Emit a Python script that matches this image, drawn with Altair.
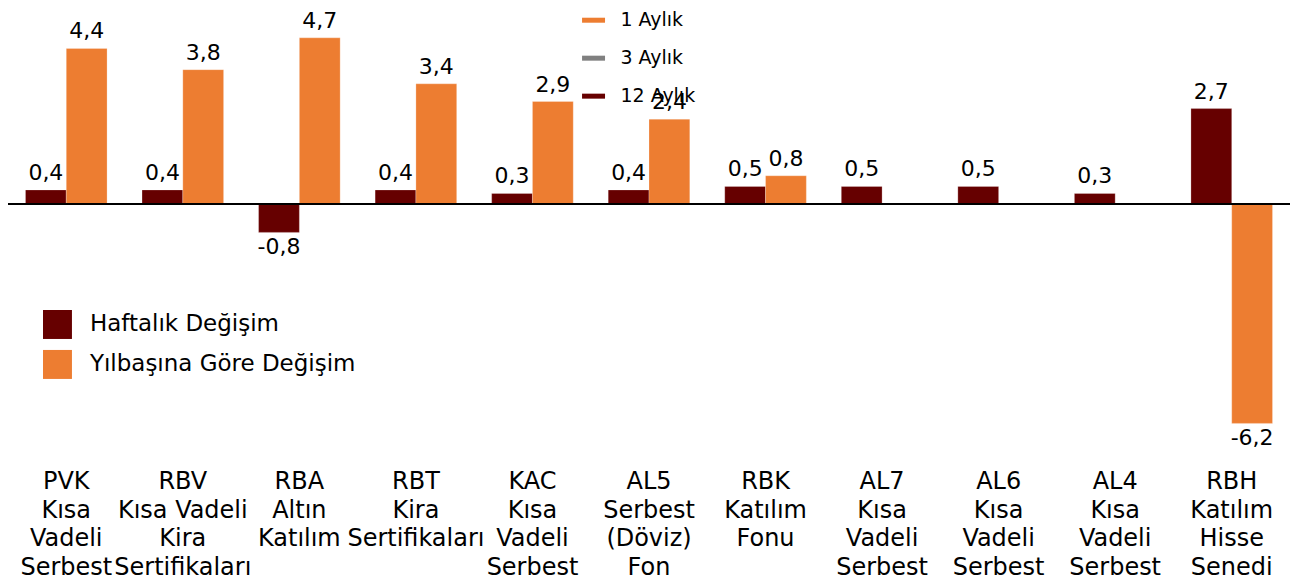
import altair as alt
import pandas as pd

categories = [
    "PVK\nKısa\nVadeli\nSerbest",
    "RBV\nKısa Vadeli\nKira\nSertifikaları",
    "RBA\nAltın\nKatılım",
    "RBT\nKira\nSertifikaları",
    "KAC\nKısa\nVadeli\nSerbest",
    "AL5\nSerbest\n(Döviz)\nFon",
    "RBK\nKatılım\nFonu",
    "AL7\nKısa\nVadeli\nSerbest",
    "AL6\nKısa\nVadeli\nSerbest",
    "AL4\nKısa\nVadeli\nSerbest",
    "RBH\nKatılım\nHisse\nSenedi",
]
haftalik = [0.4, 0.4, -0.8, 0.4, 0.3, 0.4, 0.5, 0.5, 0.5, 0.3, 2.7]
yilbasi = [4.4, 3.8, 4.7, 3.4, 2.9, 2.4, 0.8, None, None, None, -6.2]
series_names = ["Haftalık Değişim", "Yılbaşına Göre Değişim"]
series_colors = ["#660000", "#ED7D31"]
top_legend_names = ["1 Aylık", "3 Aylık", "12 Aylık"]
top_legend_colors = ["#ED7D31", "#808080", "#660000"]

rows = []
for c, h, y in zip(categories, haftalik, yilbasi):
    rows.append({"cat": c, "seri": series_names[0], "val": h})
    if y is not None:
        rows.append({"cat": c, "seri": series_names[1], "val": y})
df = pd.DataFrame(rows)
df["lab"] = df["val"].map(lambda v: f"{v:.1f}".replace(".", ","))

FONT = "DejaVu Sans"

xenc = alt.X(
    "cat:N",
    sort=categories,
    scale=alt.Scale(paddingInner=0.3, paddingOuter=0.15),
    axis=alt.Axis(
        title=None, domain=False, ticks=False, grid=False,
        labelAngle=0, labelFontSize=24, labelFont=FONT, labelColor="#000000",
        labelLineHeight=28.5, labelPadding=32, labelBaseline="top",
        labelExpr="split(datum.label, '\\n')", labelLimit=300,
        labelOverlap=False,
    ),
)
yscale = alt.Scale(domain=[-6.61, 5.537], nice=False, zero=False)
yenc = alt.Y("val:Q", scale=yscale, axis=None)
xoff = alt.XOffset("seri:N", sort=series_names, scale=alt.Scale(paddingInner=0, paddingOuter=0))

base = alt.Chart(df)

bars = base.mark_bar(stroke="#ffffff", strokeWidth=0.5, strokeOpacity=0.5).encode(
    x=xenc,
    xOffset=xoff,
    y=yenc,
    y2=alt.datum(0),
    color=alt.Color(
        "seri:N",
        scale=alt.Scale(domain=series_names, range=series_colors),
        legend=alt.Legend(
            title=None, orient="none", legendX=35, legendY=302,
            symbolType="square", symbolSize=841, symbolStrokeWidth=0,
            labelFontSize=23, labelFont=FONT, labelColor="#000000",
            rowPadding=11, labelOffset=18, labelLimit=400,
        ),
    ),
)

pos_text = base.transform_filter("datum.val >= 0").mark_text(
    baseline="bottom", dy=-5, fontSize=22, font=FONT, color="#000000"
).encode(x=xenc, xOffset=xoff, y=yenc, text="lab:N")

neg_text = base.transform_filter("datum.val < 0").mark_text(
    baseline="top", dy=5, fontSize=22, font=FONT, color="#000000"
).encode(x=xenc, xOffset=xoff, y=yenc, text="lab:N")

zero_rule = alt.Chart(pd.DataFrame({"z": [0]})).mark_rule(
    color="#000000", strokeWidth=2
).encode(y=alt.Y("z:Q", scale=yscale, axis=None))

top_df = pd.DataFrame({"name": top_legend_names})
top_legend = alt.Chart(top_df).mark_line(strokeWidth=5).encode(
    x=alt.value(0),
    y=alt.value(0),
    stroke=alt.Stroke(
        "name:N",
        scale=alt.Scale(domain=top_legend_names, range=top_legend_colors),
        legend=alt.Legend(
            title=None, orient="none", legendX=572, legendY=-2,
            symbolType="stroke", symbolSize=529, symbolStrokeWidth=5,
            labelFontSize=19, labelFont=FONT, labelColor="#000000",
            rowPadding=14, labelOffset=13,
        ),
    ),
)

chart = alt.layer(bars, zero_rule, pos_text, neg_text, top_legend).resolve_scale(
    color="independent", stroke="independent"
).properties(
    width=1283, height=430,
    autosize=alt.AutoSizeParams(type="none"),
    padding={"left": 0, "top": 0, "right": 0, "bottom": 142},
).configure_view(stroke=None).configure_legend(symbolOpacity=1)

chart.save("out.html", embed_options={"renderer": "svg", "actions": False})
